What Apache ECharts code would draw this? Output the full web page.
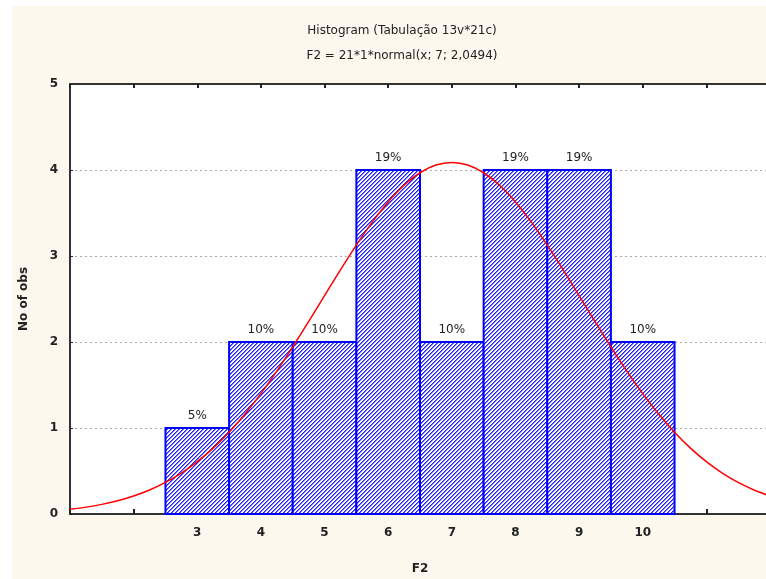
<!DOCTYPE html>
<html>
<head>
<meta charset="utf-8">
<script src="https://cdn.jsdelivr.net/npm/echarts@6/dist/echarts.min.js"></script>
<style>html,body{margin:0;padding:0;background:#fff;}#c{width:766px;height:579px;}</style>
</head>
<body>
<div id="c"></div>
<script>
// Histogram bins (F2 values) and counts
const categories = [3, 4, 5, 6, 7, 8, 9, 10];
const counts = [1, 2, 2, 4, 2, 4, 4, 2];
const pctLabels = ['5%', '10%', '10%', '19%', '10%', '19%', '19%', '10%'];
// Fitted normal curve
const curveX = [1, 1.25, 1.5, 1.75, 2, 2.25, 2.5, 2.75, 3, 3.25, 3.5, 3.75, 4, 4.25, 4.5, 4.75, 5, 5.25, 5.5, 5.75, 6, 6.25, 6.5, 6.75,
                7, 7.25, 7.5, 7.75, 8, 8.25, 8.5, 8.75, 9, 9.25, 9.5, 9.75, 10, 10.25, 10.5, 10.75, 11, 11.25, 11.5, 11.75, 12];
const curveY = [0.056, 0.080, 0.112, 0.154, 0.209, 0.279, 0.367, 0.476, 0.609, 0.766, 0.951, 1.163, 1.400, 1.662, 1.943, 2.238, 2.539,
                2.839, 3.127, 3.394, 3.629, 3.823, 3.968, 4.058, 4.088, 4.058, 3.968, 3.823, 3.629, 3.394, 3.127, 2.839, 2.539, 2.238,
                1.943, 1.662, 1.400, 1.163, 0.951, 0.766, 0.609, 0.476, 0.367, 0.279, 0.209];
const xTickLabels = ['3', '4', '5', '6', '7', '8', '9', '10'];
const yTicks = [0, 1, 2, 3, 4, 5];

const FONT = 'DejaVu Sans';

// hatch pattern
const pc = document.createElement('canvas');
pc.width = 4; pc.height = 4;
const px = pc.getContext('2d');
px.fillStyle = '#ffffff'; px.fillRect(0, 0, 4, 4);
px.fillStyle = '#2020ff';
for (let i = 0; i < 4; i++) { px.fillRect(i, 3 - i, 1, 1); }
px.fillStyle = '#7070ff';
for (let i = 0; i < 4; i++) { px.fillRect(i, (4 - i) % 4, 1, 1); }

const chart = echarts.init(document.getElementById('c'), null, {renderer: 'canvas'});
const barData = categories.map((c, i) => [c, counts[i], i]);
const lineData = curveX.map((x, i) => [x, curveY[i]]);

chart.setOption({
  backgroundColor: '#ffffff',
  animation: false,
  graphic: [{
    type: 'rect', z: -10, silent: true,
    shape: {x: 12, y: 6, width: 760, height: 580},
    style: {fill: '#fdf8ed'}
  }],
  title: [
    {text: 'Histogram (Tabulação 13v*21c)', left: 397, top: 20, textAlign: 'center',
     textStyle: {fontFamily: FONT, fontSize: 12, fontWeight: 'normal', color: '#222'}},
    {text: 'F2 = 21*1*normal(x; 7; 2,0494)', left: 397, top: 45, textAlign: 'center',
     textStyle: {fontFamily: FONT, fontSize: 12, fontWeight: 'normal', color: '#222'}}
  ],
  grid: {left: 70, right: -4, top: 84, bottom: 65, show: true, backgroundColor: '#ffffff', borderWidth: 0,
         outerBoundsMode: 'none', containLabel: false},
  xAxis: [{
    type: 'value', min: 1, max: 12, interval: 1, position: 'bottom',
    axisLine: {show: true, lineStyle: {color: '#333', width: 2}},
    axisTick: {show: true, inside: true, length: 5, lineStyle: {color: '#222', width: 2}},
    axisLabel: {margin: 13, fontFamily: FONT, fontSize: 12, fontWeight: 'bold', color: '#222',
      formatter: v => xTickLabels.indexOf(String(v)) >= 0 ? String(v) : ''},
    splitLine: {show: false},
    name: 'F2', nameLocation: 'middle', nameGap: 49,
    nameTextStyle: {fontFamily: FONT, fontSize: 12, fontWeight: 'bold', color: '#222'}
  }, {
    type: 'value', min: 1, max: 12, interval: 1, position: 'top',
    axisLine: {show: true, lineStyle: {color: '#333', width: 2}},
    axisTick: {show: true, inside: true, length: 4, lineStyle: {color: '#222', width: 2}},
    axisLabel: {show: false}, splitLine: {show: false}
  }],
  yAxis: {
    type: 'value', min: 0, max: 5, interval: 1,
    axisLine: {show: true, lineStyle: {color: '#333', width: 2}},
    axisTick: {show: true, inside: true, length: 3, lineStyle: {color: '#222'}},
    axisLabel: {margin: 12, fontFamily: FONT, fontSize: 12, fontWeight: 'bold', color: '#222',
      formatter: v => yTicks.indexOf(v) >= 0 ? String(v) : ''},
    splitLine: {show: true, lineStyle: {color: '#aaa', type: [2, 3], width: 1}},
    name: 'No of obs', nameLocation: 'middle', nameGap: 40,
    nameTextStyle: {fontFamily: FONT, fontSize: 12, fontWeight: 'bold', color: '#222'}
  },
  series: [{
    type: 'custom', z: 2,
    data: barData,
    encode: {x: 0, y: 1},
    renderItem: function (params, api) {
      const x = api.value(0), y = api.value(1), idx = api.value(2);
      const p0 = api.coord([x - 0.5, y]);
      const p1 = api.coord([x + 0.5, 0]);
      return {
        type: 'group',
        children: [{
          type: 'rect',
          shape: {x: p0[0], y: p0[1], width: p1[0] - p0[0], height: p1[1] - p0[1]},
          style: {fill: {image: pc, repeat: 'repeat'}, stroke: '#0000ff', lineWidth: 2}
        }, {
          type: 'text',
          style: {text: pctLabels[idx], x: (p0[0] + p1[0]) / 2, y: p0[1] - 12,
            align: 'center', verticalAlign: 'middle',
            fontFamily: FONT, fontSize: 12, fill: '#222'}
        }]
      };
    }
  }, {
    type: 'line', z: 3, data: lineData, smooth: 0.3, showSymbol: false,
    lineStyle: {color: '#ff0000', width: 1.5}
  }]
});
</script>
</body>
</html>
